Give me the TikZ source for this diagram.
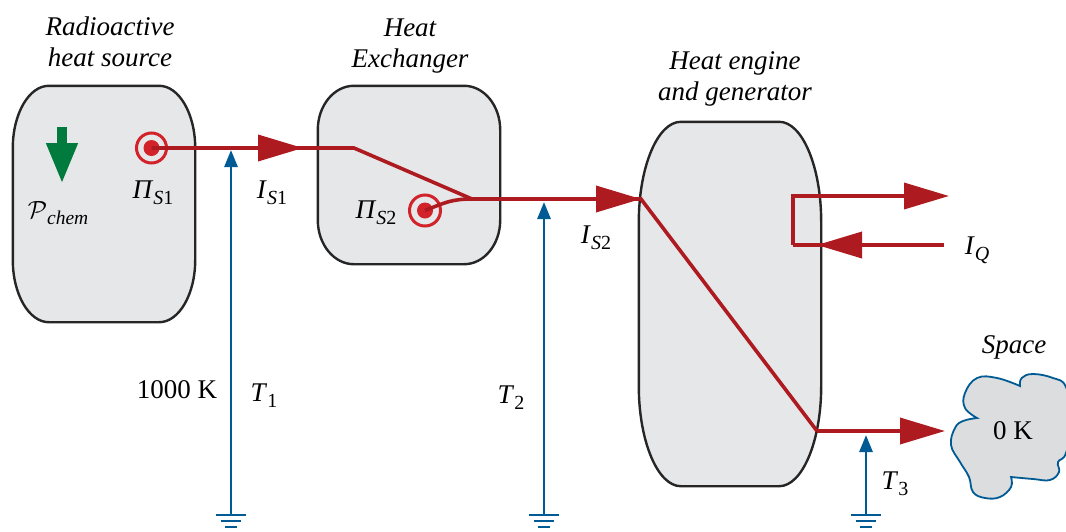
\documentclass[tikz,border=0pt]{standalone}
\usepackage{fontspec}
\setmainfont{Liberation Serif}
\usetikzlibrary{arrows.meta, positioning, calc}

\definecolor{tankgray}{HTML}{E6E7E8}
\definecolor{spacegray}{HTML}{DCDDDE}
\definecolor{flowred}{HTML}{AD1A1F}
\definecolor{sourcered}{HTML}{D2232A}
\definecolor{tempblue}{HTML}{005B94}
\definecolor{chemgreen}{HTML}{007A3D}

% outline of a tank node: name, corner width, corner height
\newcommand{\tankoutline}[3]{
  \draw[tankline]
    ($(#1.north west)+(#2,0)$) -- ($(#1.north east)+(-#2,0)$)
    .. controls ($(#1.north east)+(-0.45*#2,0)$) and ($(#1.north east)+(0,0.45*#3)$) .. ($(#1.north east)+(0,#3)$)
    -- ($(#1.south east)+(0,-#3)$)
    .. controls ($(#1.south east)+(0,-0.45*#3)$) and ($(#1.south east)+(-0.45*#2,0)$) .. ($(#1.south east)+(-#2,0)$)
    -- ($(#1.south west)+(#2,0)$)
    .. controls ($(#1.south west)+(0.45*#2,0)$) and ($(#1.south west)+(0,-0.45*#3)$) .. ($(#1.south west)+(0,-#3)$)
    -- ($(#1.north west)+(0,#3)$)
    .. controls ($(#1.north west)+(0,0.45*#3)$) and ($(#1.north west)+(0.45*#2,0)$) .. cycle;
}
% letter with a lowered index
\newcommand{\indexed}[2]{\textit{#1}\raisebox{-6pt}{\fontsize{20}{20}\selectfont #2}}

\begin{document}
\begin{tikzpicture}[
    x=1pt, y=-1pt,
    node distance=4pt and 4pt,
    every node/.style={inner sep=0pt, font=\fontsize{27}{31}\selectfont},
    tank/.style  ={minimum width=182pt},
    tankline/.style={draw=black!85, line width=2.4pt, fill=tankgray},
    title/.style ={align=center, font=\fontsize{27}{31}\selectfont\itshape},
    label/.style ={font=\fontsize{27}{31}\selectfont},
    flow/.style  ={draw=flowred, line width=3.6pt},
    flowarrow/.style={flow, -{Triangle[length=45pt, width=26pt]}},
    temp/.style  ={draw=tempblue, line width=2.8pt, -{Triangle[length=17pt, width=13pt]}},
    groundbar/.style={draw=tempblue, line width=2.4pt},
    ground/.pic={
      \draw[groundbar] (-15,0) -- (15,0);
      \draw[groundbar] (-10,6) -- (10,6);
      \draw[groundbar] (-6,12) -- (6,12);
    },
]
\useasboundingbox (0,0) rectangle (1066,531);

% ── Tanks ───────────────────────────────────────────────────────────────
\node[tank, minimum height=236pt] (source)    at (104,204) {};
\node[tank, minimum height=178pt] (exchanger) at (409,175) {};
\node[tank, minimum height=364pt] (engine)    at (730,304) {};
\tankoutline{source}{36}{62}
\tankoutline{exchanger}{36}{44}
\tankoutline{engine}{42}{100}

% ── Titles ──────────────────────────────────────────────────────────────
\node[title, above=19pt of source, xshift=6pt]  (sourcetitle) {Radioactive\\heat source};
\node[title, above=12pt of exchanger, xshift=1pt] (exchangertitle) {Heat\\Exchanger};
\node[title, above=15pt of engine, xshift=5pt]  (enginetitle) {Heat engine\\and generator};

% ── Space ───────────────────────────────────────────────────────────────
\draw[draw=tempblue, line width=1.8pt, fill=spacegray]
  plot[smooth, tension=0.7] coordinates {(1020,386) (1021.7,378) (1033,374) (1053,378) (1066,387) (1072,420) (1066,453) (1058,462) (1059,472) (1050,480) (1033,479) (1011,477)}
  -- plot[smooth, tension=0.7] coordinates {(1011,477) (1011,487) (1000,497) (985,498) (973,492) (969,477) (960,462) (951,445) (955,428) (963,421) (977,418)}
  -- plot[smooth, tension=0.7] coordinates {(977,418) (965,408) (965,393) (977,378) (997,378) (1020,386)}
  -- cycle;
\node[label] (space) at (1013,431) {0 K};
\node[title] (spacetitle) at (1014,347) {Space};

% ── Junctions ───────────────────────────────────────────────────────────
\coordinate (headone) at (303,148);
\coordinate (bendone) at (354,148);
\coordinate (bendtwo) at (472,199);
\coordinate (headtwo) at (641,199);
\coordinate (bendthree) at (817,431);
\coordinate (headthree) at (945,431);
\coordinate (outtop) at (793,196);
\coordinate (outbot) at (793,245);
\coordinate (heatout) at (949,196);
\coordinate (heatin) at (944,245);
\coordinate (heattip) at (817,245);

% ── Entropy sources ─────────────────────────────────────────────────────
\node[circle, draw=sourcered, line width=3pt, minimum size=30pt] (pione) at (151.5,148) {};
\node[circle, fill=sourcered, minimum size=16pt] (dotone) at (pione) {};
\node[circle, draw=sourcered, line width=3pt, minimum size=31pt] (pitwo) at (425,210.5) {};
\node[circle, fill=sourcered, minimum size=16pt] (dottwo) at (pitwo) {};

% ── Flows ───────────────────────────────────────────────────────────────
\draw[flow] (dotone.center) -- (bendone) -- (bendtwo);
\draw[flowarrow] (dotone.center) -- (headone);
\draw[flow] (dottwo.center) .. controls +(20,-8) and +(-20,0) .. (bendtwo);
\draw[flow] (bendtwo) -- (headtwo) -- (bendthree);
\draw[flowarrow] (bendtwo) -- (headtwo);
\draw[flowarrow] (bendthree) -- (headthree);
\draw[flowarrow] (outbot) -- (outtop) -- (heatout);
\draw[flow] (heatin) -- (outbot);
\draw[flowarrow] (heatin) -- (heattip);

% ── Temperatures ────────────────────────────────────────────────────────
\coordinate (groundone) at (231,515);
\coordinate (groundtwo) at (544,515);
\coordinate (groundthree) at (866,515);
\pic at (groundone) {ground};
\pic at (groundtwo) {ground};
\pic at (groundthree) {ground};
\draw[temp] (groundone) -- (231,150);
\draw[temp] (groundtwo) -- (544,202);
\draw[temp] (groundthree) -- (866,435);

% ── Chemical power ──────────────────────────────────────────────────────
\coordinate (chemtop) at (62,127);
\coordinate (chemtip) at (62,184);
\draw[draw=chemgreen, line width=10pt, -{Triangle[length=41pt, width=29pt]}] (chemtop) -- (chemtip);

% ── Labels ──────────────────────────────────────────────────────────────
\node[label] (pchem) at (58,213) {$\mathcal{P}$\raisebox{-6pt}{\fontsize{19.5}{21}\selectfont\itshape chem}};
\node[label] (pionelabel) at (153,193) {\indexed{Π}{\textit{S}1}};
\node[label] (isone) at (272,193) {\indexed{I}{\textit{S}1}};
\node[label] (pitwolabel) at (376,213) {\indexed{Π}{\textit{S}2}};
\node[label] (istwo) at (596,238) {\indexed{I}{\textit{S}2}};
\node[label] (iq) at (977,250) {\indexed{I}{\textit{Q}}};
\node[label] (kiloK) at (177,390) {1000 K};
\node[label] (tone) at (264,396) {\indexed{T}{1}};
\node[label] (ttwo) at (511,398) {\indexed{T}{2}};
\node[label] (tthree) at (895,484) {\indexed{T}{3}};

\end{tikzpicture}
\end{document}
